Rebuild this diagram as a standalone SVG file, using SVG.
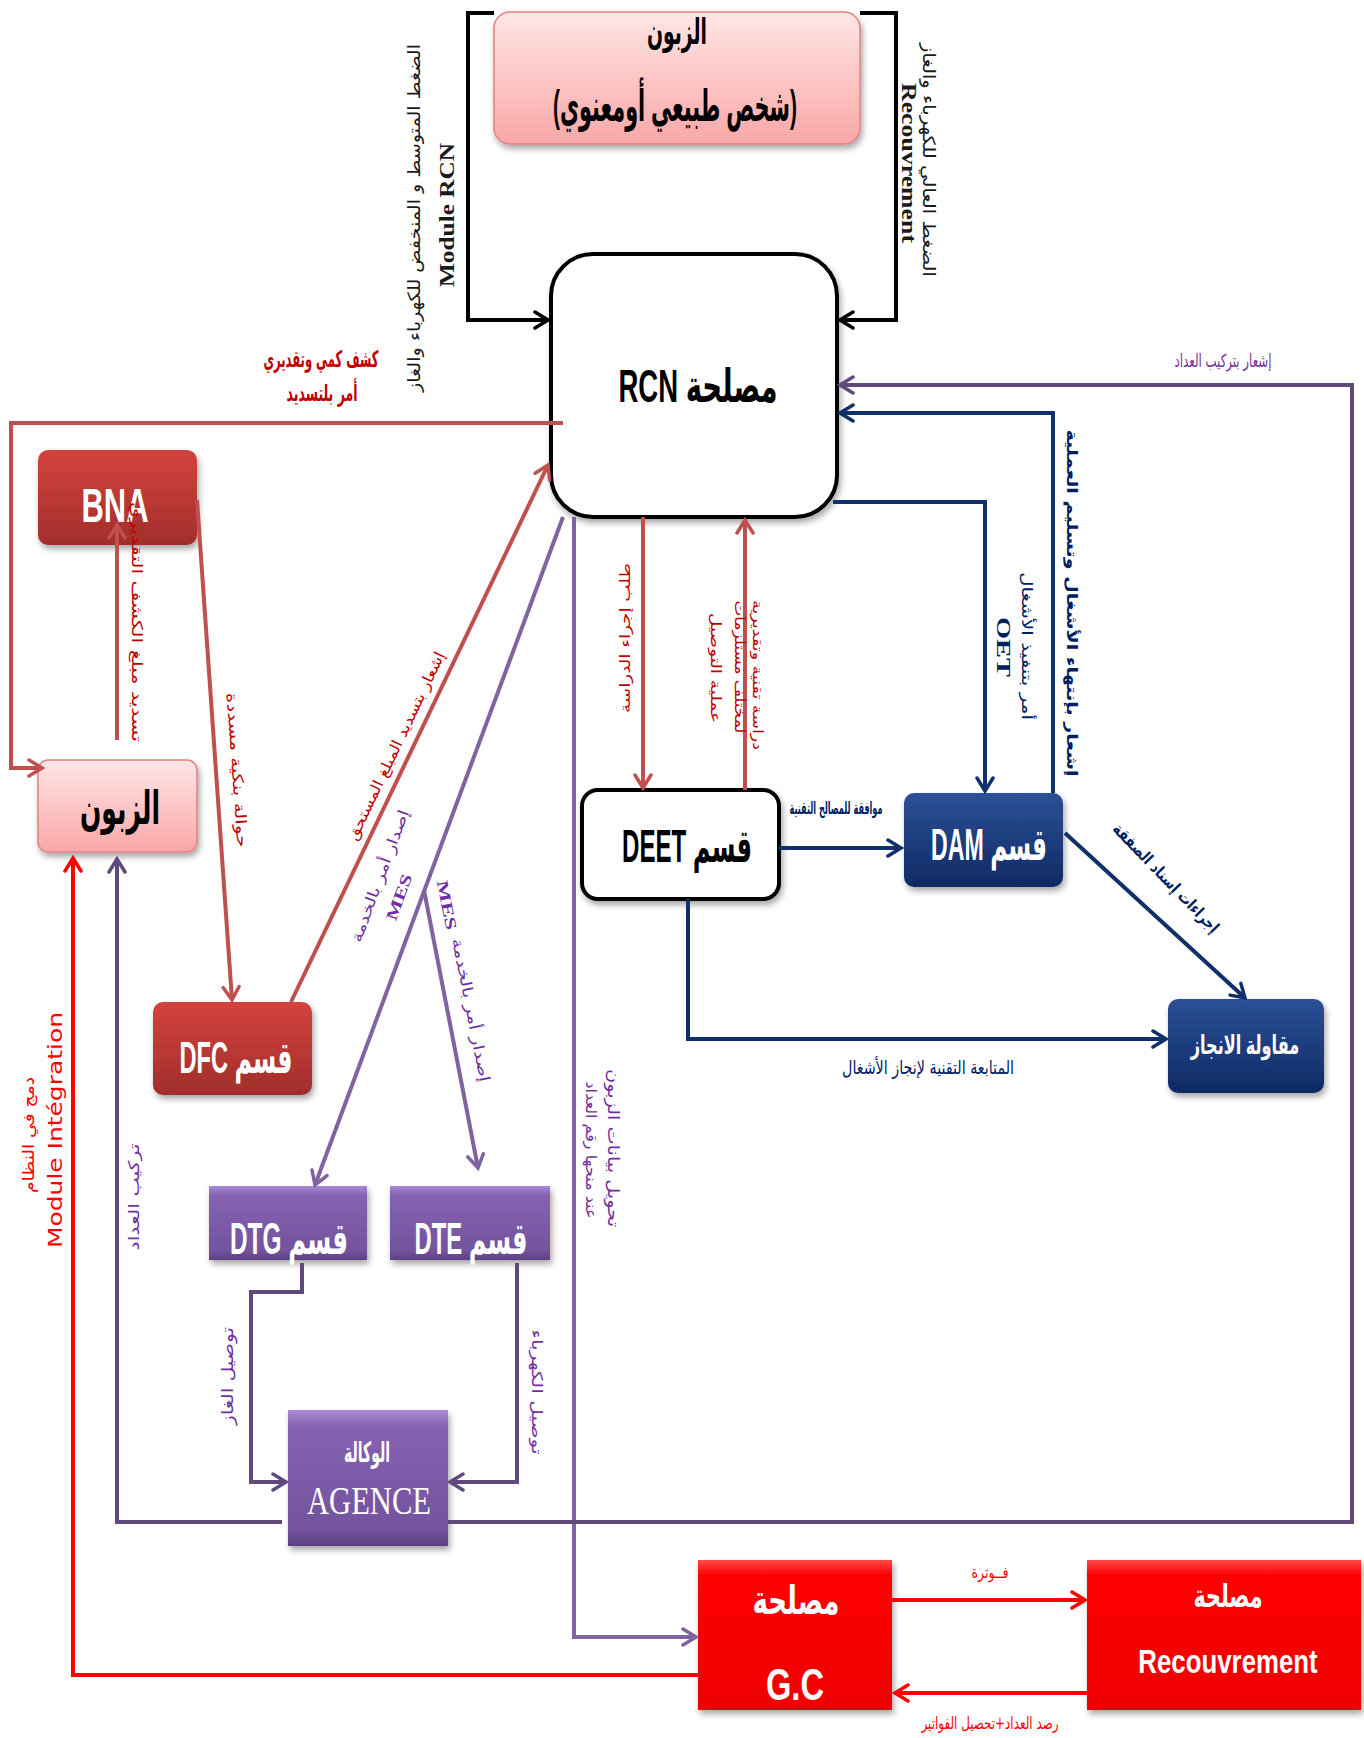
<svg xmlns="http://www.w3.org/2000/svg" width="1364" height="1738" viewBox="0 0 1364 1738">
<defs>
<style>
.nt{font-family:"Liberation Sans","DejaVu Sans",sans-serif;font-weight:bold;text-anchor:middle}
.ser{font-family:"Liberation Serif","DejaVu Serif",serif}
.lb{font-family:"DejaVu Sans","Noto Sans",sans-serif;text-anchor:middle;dominant-baseline:central}
.lbs{font-family:"Liberation Serif","DejaVu Serif",serif;font-weight:bold;text-anchor:middle;dominant-baseline:central}
.b{font-weight:bold}
.wh{fill:#fff}
.bk{fill:#000}
.t-dred{fill:#c00000}
.t-pur{fill:#7030a0}
.t-navy{fill:#002060}
.t-red{fill:#ff0000}
.t-blk{fill:#1a1a1a}
.ln{fill:none;stroke-width:4}
.k{stroke:#000}
.dr{stroke:#c0504d}
.pu{stroke:#8064a2}
.dp{stroke:#604a7b}
.nv{stroke:#10306a}
.rd{stroke:#ff0000}
.box{filter:url(#shadow)}
</style>
<filter id="shadow" x="-10%" y="-10%" width="130%" height="140%">
<feDropShadow dx="2" dy="4" stdDeviation="3" flood-color="#000" flood-opacity="0.35"/>
</filter>
<linearGradient id="g-pink" x1="0" y1="0" x2="0" y2="1"><stop offset="0" stop-color="#ffe6e6"/><stop offset="1" stop-color="#f9a7a7"/></linearGradient>
<linearGradient id="g-brick" x1="0" y1="0" x2="0" y2="1"><stop offset="0" stop-color="#d4433f"/><stop offset="1" stop-color="#a12e2b"/></linearGradient>
<linearGradient id="g-purple" x1="0" y1="0" x2="0" y2="1"><stop offset="0" stop-color="#aa8dd3"/><stop offset="0.12" stop-color="#8563b2"/><stop offset="0.88" stop-color="#73539d"/><stop offset="1" stop-color="#5b4083"/></linearGradient>
<linearGradient id="g-navy" x1="0" y1="0" x2="0" y2="1"><stop offset="0" stop-color="#2c5096"/><stop offset="1" stop-color="#0e2a64"/></linearGradient>
<linearGradient id="g-red" x1="0" y1="0" x2="0" y2="1"><stop offset="0" stop-color="#ff4a4a"/><stop offset="0.1" stop-color="#ff0000"/><stop offset="1" stop-color="#ee0000"/></linearGradient>
<marker id="ah-k" viewBox="0 0 18 20" refX="15" refY="10" markerWidth="18" markerHeight="20" markerUnits="userSpaceOnUse" orient="auto"><path d="M2,2 L15,10 L2,18" fill="none" stroke="#000" stroke-width="3.5" stroke-linecap="round"/></marker>
<marker id="ah-dr" viewBox="0 0 18 20" refX="15" refY="10" markerWidth="18" markerHeight="20" markerUnits="userSpaceOnUse" orient="auto"><path d="M2,2 L15,10 L2,18" fill="none" stroke="#c0504d" stroke-width="3.5" stroke-linecap="round"/></marker>
<marker id="ah-pu" viewBox="0 0 18 20" refX="15" refY="10" markerWidth="18" markerHeight="20" markerUnits="userSpaceOnUse" orient="auto"><path d="M2,2 L15,10 L2,18" fill="none" stroke="#8064a2" stroke-width="3.5" stroke-linecap="round"/></marker>
<marker id="ah-dp" viewBox="0 0 18 20" refX="15" refY="10" markerWidth="18" markerHeight="20" markerUnits="userSpaceOnUse" orient="auto"><path d="M2,2 L15,10 L2,18" fill="none" stroke="#604a7b" stroke-width="3.5" stroke-linecap="round"/></marker>
<marker id="ah-nv" viewBox="0 0 18 20" refX="15" refY="10" markerWidth="18" markerHeight="20" markerUnits="userSpaceOnUse" orient="auto"><path d="M2,2 L15,10 L2,18" fill="none" stroke="#10306a" stroke-width="3.5" stroke-linecap="round"/></marker>
<marker id="ah-rd" viewBox="0 0 18 20" refX="15" refY="10" markerWidth="18" markerHeight="20" markerUnits="userSpaceOnUse" orient="auto"><path d="M2,2 L15,10 L2,18" fill="none" stroke="#ff0000" stroke-width="3.5" stroke-linecap="round"/></marker>
</defs>

<rect width="1364" height="1738" fill="#fff"/>

<!-- nodes -->
<g id="client-top">
<rect class="box" x="494" y="12" width="366" height="132" rx="16" fill="url(#g-pink)" stroke="#e58080" stroke-width="1.5"/>
<text class="nt bk" x="677" y="44" font-size="36" textLength="60" lengthAdjust="spacingAndGlyphs">الزبون</text>
<text class="nt bk" x="675" y="121" font-size="44" textLength="244" lengthAdjust="spacingAndGlyphs">&#x200F;(شخص طبيعي أومعنوي)&#x200F;</text>
</g>

<g id="rcn">
<rect class="box" x="551" y="254" width="286" height="263" rx="42" fill="#fff" stroke="#000" stroke-width="4"/>
<text class="nt bk" x="698" y="402" font-size="46" textLength="159" lengthAdjust="spacingAndGlyphs">RCN مصلحة</text>
</g>

<g id="bna">
<rect class="box" x="38" y="450" width="159" height="95" rx="10" fill="url(#g-brick)"/>
<text class="nt wh" x="115" y="522" font-size="48" textLength="67" lengthAdjust="spacingAndGlyphs">BNA</text>
</g>

<g id="client-left">
<rect class="box" x="38" y="760" width="159" height="92" rx="10" fill="url(#g-pink)" stroke="#e58080" stroke-width="1.5"/>
<text class="nt bk" x="120" y="824" font-size="46" textLength="80" lengthAdjust="spacingAndGlyphs">الزبون</text>
</g>

<g id="dfc">
<rect class="box" x="153" y="1002" width="159" height="93" rx="10" fill="url(#g-brick)"/>
<text class="nt wh" x="236" y="1073" font-size="44" textLength="113" lengthAdjust="spacingAndGlyphs">DFC قسم</text>
</g>

<g id="dtg">
<rect class="box" x="209" y="1186" width="158" height="74" fill="url(#g-purple)"/>
<text class="nt wh" x="289" y="1254" font-size="44" textLength="118" lengthAdjust="spacingAndGlyphs">DTG قسم</text>
</g>

<g id="dte">
<rect class="box" x="390" y="1186" width="160" height="74" fill="url(#g-purple)"/>
<text class="nt wh" x="471" y="1254" font-size="44" textLength="113" lengthAdjust="spacingAndGlyphs">DTE قسم</text>
</g>

<g id="agence">
<rect class="box" x="288" y="1410" width="160" height="136" fill="url(#g-purple)"/>
<text class="nt wh" x="367" y="1462" font-size="28" textLength="46" lengthAdjust="spacingAndGlyphs" font-weight="normal">الوكالة</text>
<text class="ser wh" x="369" y="1514" font-size="40" text-anchor="middle" textLength="124" lengthAdjust="spacingAndGlyphs">AGENCE</text>
</g>

<g id="deet">
<rect class="box" x="582" y="790" width="197" height="109" rx="16" fill="#fff" stroke="#000" stroke-width="4"/>
<text class="nt bk" x="687" y="862" font-size="46" textLength="130" lengthAdjust="spacingAndGlyphs">DEET قسم</text>
</g>

<g id="dam">
<rect class="box" x="904" y="793" width="159" height="94" rx="10" fill="url(#g-navy)"/>
<text class="nt wh" x="989" y="860" font-size="44" textLength="116" lengthAdjust="spacingAndGlyphs">DAM قسم</text>
</g>

<g id="contractor">
<rect class="box" x="1168" y="999" width="156" height="94" rx="10" fill="url(#g-navy)"/>
<text class="nt wh" transform="translate(1245,1054) scale(0.62,1)" font-size="26">مقاولة الانجاز</text>
</g>

<g id="gc">
<rect class="box" x="698" y="1560" width="194" height="150" fill="url(#g-red)"/>
<text class="nt wh" x="796" y="1614" font-size="40" textLength="87" lengthAdjust="spacingAndGlyphs">مصلحة</text>
<text class="nt wh" x="795" y="1700" font-size="44" textLength="58" lengthAdjust="spacingAndGlyphs">G.C</text>
</g>

<g id="recouvrement">
<rect class="box" x="1087" y="1560" width="274" height="150" fill="url(#g-red)"/>
<text class="nt wh" x="1228" y="1607" font-size="32" textLength="69" lengthAdjust="spacingAndGlyphs">مصلحة</text>
<text class="nt wh" transform="translate(1228,1673) scale(0.76,1)" font-size="34">Recouvrement</text>
</g>

<!-- connectors and their labels -->
<g id="connectors">
<!-- client (top) to RCN, both voltage levels -->
<path class="ln k" d="M494,13 H468 V320 H548" marker-end="url(#ah-k)"/>
<path class="ln k" d="M860,13 H896 V320 H840" marker-end="url(#ah-k)"/>

<!-- RCN to client (estimate and payment order) -->
<path class="ln dr" d="M563,423 H11 V768 H42" marker-end="url(#ah-dr)"/>
<!-- client pays at BNA -->
<path class="ln dr" d="M117,740 V525" marker-end="url(#ah-dr)"/>
<!-- BNA to DFC -->
<path class="ln dr" d="M197,500 L232,1000" marker-end="url(#ah-dr)"/>
<!-- DFC to RCN -->
<path class="ln dr" d="M291,1002 L548,465" marker-end="url(#ah-dr)"/>
<!-- RCN <-> DEET -->
<path class="ln dr" d="M643,517 V788" marker-end="url(#ah-dr)"/>
<path class="ln dr" d="M745,790 V520" marker-end="url(#ah-dr)"/>

<!-- RCN to DTG / DTE -->
<path class="ln pu" d="M563,517 L315,1185" marker-end="url(#ah-pu)"/>
<path class="ln pu" d="M424,890 L478,1168" marker-end="url(#ah-pu)"/>
<!-- RCN to G.C -->
<path class="ln pu" d="M574,517 V1637 H696" marker-end="url(#ah-pu)"/>

<!-- DTG / DTE to AGENCE -->
<path class="ln dp" d="M302,1263 V1292 H251 V1482 H286" marker-end="url(#ah-dp)"/>
<path class="ln dp" d="M517,1263 V1482 H450" marker-end="url(#ah-dp)"/>
<!-- AGENCE to client (meter installed) -->
<path class="ln dp" d="M282,1522 H117 V859" marker-end="url(#ah-dp)"/>
<!-- AGENCE notifies RCN -->
<path class="ln dp" d="M448,1522 H1352 V385 H840" marker-end="url(#ah-dp)"/>

<!-- navy flows -->
<path class="ln nv" d="M833,502 H985 V791" marker-end="url(#ah-nv)"/>
<path class="ln nv" d="M1053,793 V413 H840" marker-end="url(#ah-nv)"/>
<path class="ln nv" d="M779,848 H901" marker-end="url(#ah-nv)"/>
<path class="ln nv" d="M1065,833 L1245,998" marker-end="url(#ah-nv)"/>
<path class="ln nv" d="M688,899 V1039 H1166" marker-end="url(#ah-nv)"/>

<!-- billing -->
<path class="ln rd" d="M892,1600 H1085" marker-end="url(#ah-rd)"/>
<path class="ln rd" d="M1087,1693 H895" marker-end="url(#ah-rd)"/>
<path class="ln rd" d="M698,1675 H73 V858" marker-end="url(#ah-rd)"/>

<!-- labels -->
<text class="lb t-blk" transform="translate(414,218) rotate(-90)" font-size="17" textLength="348" lengthAdjust="spacingAndGlyphs">الضغط المتوسط و المنخفض للكهرباء والغاز</text>
<text class="lbs t-blk" transform="translate(446,215) rotate(-90)" font-size="22" textLength="144" lengthAdjust="spacingAndGlyphs">Module RCN</text>
<text class="lb t-blk" transform="translate(929,160) rotate(90)" font-size="17" textLength="234" lengthAdjust="spacingAndGlyphs">الضغط العالي للكهرباء والغاز</text>
<text class="lbs t-blk" transform="translate(909,163) rotate(90)" font-size="22" textLength="160" lengthAdjust="spacingAndGlyphs">Recouvrement</text>

<text class="lb b t-dred" x="321" y="359" font-size="23" textLength="115" lengthAdjust="spacingAndGlyphs">كشف كمي وتقديري</text>
<text class="lb b t-dred" x="322" y="393" font-size="23" textLength="71" lengthAdjust="spacingAndGlyphs">أمر بلتسديد</text>
<text class="lb t-dred" transform="translate(137,622) rotate(90)" font-size="15" textLength="240" lengthAdjust="spacingAndGlyphs">تسديد مبلغ الكشف التقديري</text>
<text class="lb t-dred" transform="translate(237,770) rotate(86)" font-size="15" textLength="155" lengthAdjust="spacingAndGlyphs">حوالة بنكية مسددة</text>
<text class="lb t-dred" transform="translate(396,746) rotate(-64.5)" font-size="15" textLength="207" lengthAdjust="spacingAndGlyphs">إشعار بتسديد المبلغ المستحق</text>
<text class="lb t-dred" transform="translate(625,638) rotate(-90)" font-size="14" textLength="150" lengthAdjust="spacingAndGlyphs">طلب إجراء الدراسة</text>
<text class="lb t-dred" transform="translate(758,675) rotate(90)" font-size="14" textLength="150" lengthAdjust="spacingAndGlyphs">دراسة تقنية وتقديرية</text>
<text class="lb t-dred" transform="translate(740,667) rotate(90)" font-size="14" textLength="133" lengthAdjust="spacingAndGlyphs">لمختلف مستلزمات</text>
<text class="lb t-dred" transform="translate(716,668) rotate(90)" font-size="14" textLength="110" lengthAdjust="spacingAndGlyphs">عملية التوصيل</text>

<text class="lb t-pur" transform="translate(380,876) rotate(-69.6)" font-size="15" textLength="140" lengthAdjust="spacingAndGlyphs">إصدار أمر بالخدمة</text>
<text class="lbs t-pur" transform="translate(399,897) rotate(-69.6)" font-size="16" textLength="48" lengthAdjust="spacingAndGlyphs">MES</text>
<text class="lbs t-pur" transform="translate(447,905) rotate(78.9)" font-size="16" textLength="50" lengthAdjust="spacingAndGlyphs">MES</text>
<text class="lb t-pur" transform="translate(471,1010) rotate(78.9)" font-size="15" textLength="146" lengthAdjust="spacingAndGlyphs">إصدار أمر بالخدمة</text>
<text class="lb t-pur" transform="translate(613,1148) rotate(90)" font-size="16" textLength="158" lengthAdjust="spacingAndGlyphs">تحويل بيانات الزبون</text>
<text class="lb t-pur" transform="translate(591,1150) rotate(90)" font-size="15" textLength="137" lengthAdjust="spacingAndGlyphs">عند منحها رقم العداد</text>
<text class="lb t-pur" x="1223" y="360" font-size="18" textLength="97" lengthAdjust="spacingAndGlyphs">إشعار بتركيب العداد</text>
<text class="lb t-pur" transform="translate(227,1376) rotate(-90)" font-size="16" textLength="98" lengthAdjust="spacingAndGlyphs">توصيل الغاز</text>
<text class="lb t-pur" transform="translate(537,1392) rotate(90)" font-size="15" textLength="125" lengthAdjust="spacingAndGlyphs">توصيل الكهرباء</text>
<text class="lb t-pur" transform="translate(134,1197) rotate(-90)" font-size="15" textLength="107" lengthAdjust="spacingAndGlyphs">تركيب العداد</text>

<text class="lb t-navy" transform="translate(1027,646) rotate(90)" font-size="15" textLength="148" lengthAdjust="spacingAndGlyphs">أمر بتنفيذ الأشغال</text>
<text class="lbs t-navy" transform="translate(1003,647) rotate(90)" font-size="18" textLength="60" lengthAdjust="spacingAndGlyphs">OET</text>
<text class="lb b t-navy" transform="translate(1072,603) rotate(90)" font-size="15" textLength="347" lengthAdjust="spacingAndGlyphs">إشعار بإنتهاء الأشغال وتسليم العملية</text>
<text class="lb b t-navy" x="836" y="808" font-size="17" textLength="93" lengthAdjust="spacingAndGlyphs">موافقة للمصالح التقنية</text>
<text class="lb b t-navy" transform="translate(1166,878) rotate(46)" font-size="16" textLength="145" lengthAdjust="spacingAndGlyphs">إجراءات إسناد الصفقة</text>
<text class="lb t-navy" x="928" y="1067" font-size="19" textLength="172" lengthAdjust="spacingAndGlyphs">المتابعة التقنية لإنجاز الأشغال</text>

<text class="lb t-red" transform="translate(55,1130) rotate(-90)" font-size="20" textLength="236" lengthAdjust="spacingAndGlyphs">Module Intégration</text>
<text class="lb t-red" transform="translate(28,1135) rotate(-90)" font-size="16" textLength="116" lengthAdjust="spacingAndGlyphs">دمج في النظام</text>
<text class="lb t-red" x="990" y="1572" font-size="16" textLength="37" lengthAdjust="spacingAndGlyphs">فــوترة</text>
<text class="lb t-red" x="990" y="1723" font-size="17" textLength="137" lengthAdjust="spacingAndGlyphs">رصد العداد+تحصيل الفواتير</text>
</g>
</svg>
